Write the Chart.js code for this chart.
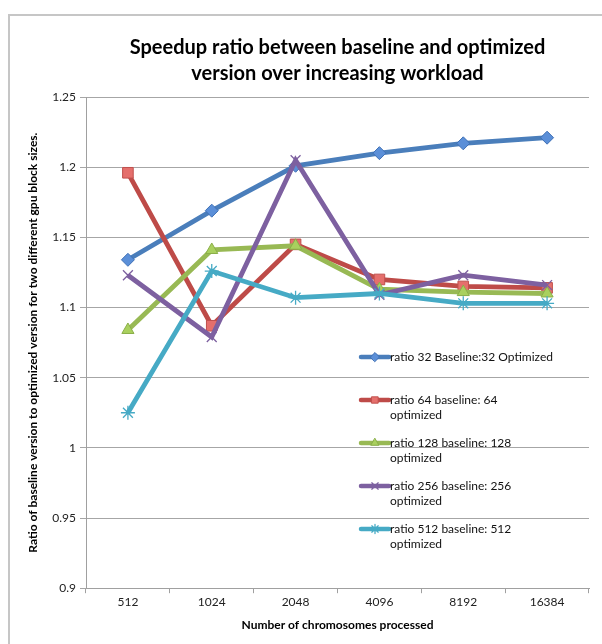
<!DOCTYPE html>
<html>
<head>
<meta charset="utf-8">
<script src="https://cdn.jsdelivr.net/npm/chart.js@4.4.1/dist/chart.umd.min.js"></script>
<style>
  html, body { margin: 0; padding: 0; background: #fff; }
  #wrap { position: relative; width: 602px; height: 644px; overflow: hidden; }
  #frame { position: absolute; left: 8px; top: 14px; width: 620px; height: 660px;
           border-left: 2px solid #c6c6c6; border-top: 2px solid #c6c6c6; pointer-events: none; }
  canvas { position: absolute; left: 0; top: 0; }
</style>
</head>
<body>
<div id="wrap">
  <canvas id="chart" width="602" height="644"></canvas>
  <div id="frame"></div>
</div>
<script>
// Workload sizes (x categories)
const categories = ['512', '1024', '2048', '4096', '8192', '16384'];

// Speedup ratios per gpu block size
const ratio32  = [1.134, 1.169, 1.201, 1.210, 1.217, 1.221];
const ratio64  = [1.196, 1.087, 1.145, 1.120, 1.115, 1.114];
const ratio128 = [1.084, 1.141, 1.144, 1.113, 1.111, 1.110];
const ratio256 = [1.123, 1.079, 1.205, 1.109, 1.123, 1.116];
const ratio512 = [1.025, 1.126, 1.107, 1.110, 1.103, 1.103];

// Series names, split the way the legend wraps them
const seriesNames = [
  ['ratio 32 Baseline:32 Optimized'],
  ['ratio 64 baseline: 64', 'optimized'],
  ['ratio 128 baseline: 128', 'optimized'],
  ['ratio 256 baseline: 256', 'optimized'],
  ['ratio 512 baseline: 512', 'optimized']
];

const yTickValues = [0.9, 0.95, 1, 1.05, 1.1, 1.15, 1.2, 1.25];

const titleLines = ['Speedup ratio between baseline and optimized', 'version over increasing workload'];
const xTitle = 'Number of chromosomes processed';
const yTitle = 'Ratio of baseline version to optimized version for two different gpu block sizes.';

const seriesValues = [ratio32, ratio64, ratio128, ratio256, ratio512];

const FONT = 'Lato, "Open Sans", sans-serif';

const styles = [
  { line: '#4a7ebb', fill: '#5b8fd8', edge: '#3f70b5', point: 'rectRot',  radius: 6.5, bw: 1 },
  { line: '#be4b48', fill: '#e56f6c', edge: '#c0504d', point: 'rect',     radius: 7.5, bw: 1 },
  { line: '#98b954', fill: '#a9d05e', edge: '#8aae48', point: 'triangle', radius: 7,   bw: 1 },
  { line: '#7d60a0', fill: '#7d60a0', edge: '#7d60a0', point: 'crossRot', radius: 7,   bw: 1.3 },
  { line: '#46aac5', fill: '#46aac5', edge: '#46aac5', point: 'star',     radius: 7,   bw: 1.3 }
];

const datasets = seriesValues.map((vals, i) => ({
  label: seriesNames[i].join(' '),
  data: vals,
  borderColor: styles[i].line,
  backgroundColor: styles[i].fill,
  borderWidth: 4.8,
  pointStyle: styles[i].point,
  pointRadius: styles[i].radius,
  pointHoverRadius: styles[i].radius,
  pointBackgroundColor: styles[i].fill,
  pointBorderColor: styles[i].edge,
  pointBorderWidth: styles[i].bw,
  tension: 0,
  fill: false,
  // later series are painted over earlier ones
  order: seriesValues.length - i
}));

// Legend drawn inside the plot area, without a box
const insideLegend = {
  id: 'insideLegend',
  afterDatasetsDraw(chart) {
    const ctx = chart.ctx;
    const x0 = 361, sampleW = 28, textX = 390;
    const rowTop = [357, 400, 443, 486, 529];
    const lineH = 15;
    ctx.save();
    ctx.font = '12px ' + FONT;
    ctx.textBaseline = 'middle';
    ctx.textAlign = 'left';
    seriesNames.forEach((lines, i) => {
      const y = rowTop[i];
      const st = styles[i];
      ctx.strokeStyle = st.line;
      ctx.lineWidth = 4.5;
      ctx.lineCap = 'round';
      ctx.beginPath();
      ctx.moveTo(x0, y);
      ctx.lineTo(x0 + sampleW, y);
      ctx.stroke();
      ctx.fillStyle = st.fill;
      ctx.strokeStyle = st.edge;
      ctx.lineWidth = st.bw;
      Chart.helpers.drawPoint(ctx, { pointStyle: st.point, radius: 4.5, rotation: 0, borderWidth: st.bw }, x0 + sampleW / 2, y);
      ctx.fillStyle = '#111';
      lines.forEach((t, k) => ctx.fillText(t, textX, y + k * lineH));
    });
    ctx.restore();
  }
};

new Chart(document.getElementById('chart'), {
  type: 'line',
  data: { labels: categories, datasets },
  plugins: [insideLegend],
  options: {
    responsive: false,
    animation: false,
    devicePixelRatio: 1,
    layout: { padding: { left: 26, right: 13, top: 0, bottom: 12 } },
    plugins: {
      legend: { display: false },
      tooltip: { enabled: false },
      title: {
        display: true,
        fullSize: false,
        text: titleLines,
        color: '#000',
        font: { family: FONT, size: 20, weight: 'bold', lineHeight: 1.3 },
        padding: { top: 35, bottom: 10 }
      }
    },
    scales: {
      x: {
        offset: true,
        grid: { offset: true, drawOnChartArea: false, drawTicks: true, tickLength: 5, color: '#a0a0a0' },
        border: { display: true, color: '#a0a0a0', width: 1 },
        ticks: { color: '#222', font: { family: FONT, size: 12 }, padding: 2, maxRotation: 0 },
        title: {
          display: true, text: xTitle, color: '#000',
          font: { family: FONT, size: 12, weight: 'bold' },
          padding: { top: 6, bottom: 0 }
        }
      },
      y: {
        min: 0.9,
        max: 1.25,
        afterBuildTicks(scale) { scale.ticks = yTickValues.map(v => ({ value: v })); },
        afterFit(scale) { scale.width = 60; },
        grid: { color: '#a6a6a6', lineWidth: 1, tickLength: 6, drawTicks: true },
        border: { display: true, color: '#a0a0a0', width: 1 },
        ticks: {
          color: '#222', padding: 4,
          font: { family: FONT, size: 12 },
          callback: (v) => String(+Number(v).toFixed(2))
        },
        title: {
          display: true, text: yTitle, color: '#000',
          font: { family: FONT, size: 12, weight: 'bold' },
          padding: { top: 0, bottom: 0 }
        }
      }
    }
  }
});
</script>
</body>
</html>
